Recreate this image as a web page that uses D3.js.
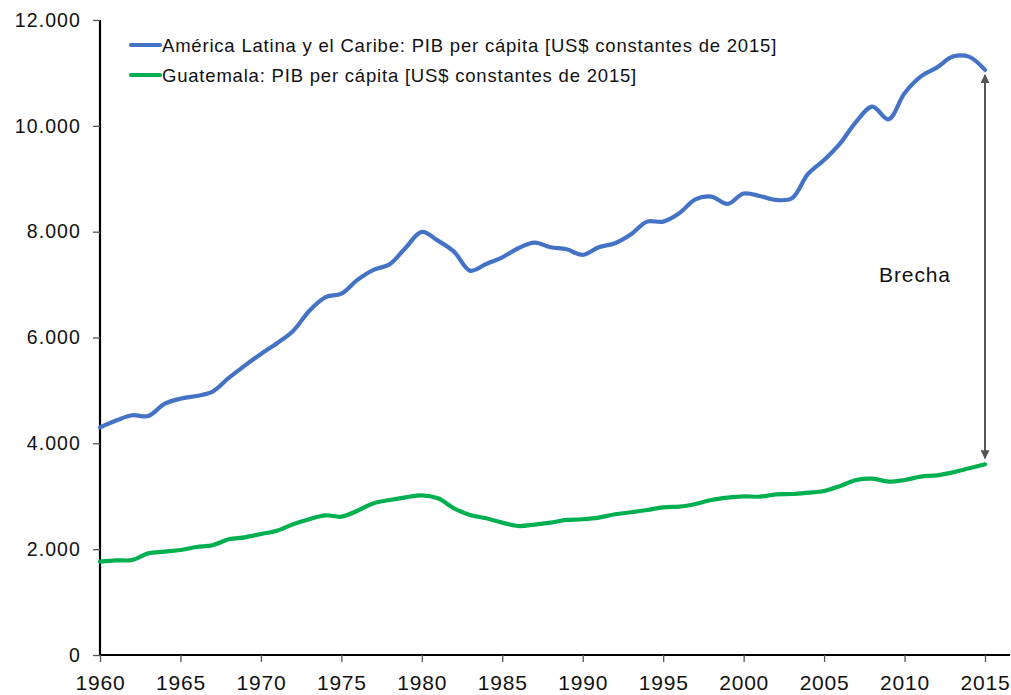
<!DOCTYPE html>
<html>
<head>
<meta charset="utf-8">
<script src="https://cdn.jsdelivr.net/npm/d3@7"></script>
<style>
  body { margin: 0; background: #fff; }
  svg { display: block; font-family: "Liberation Sans", Arial, sans-serif; }
</style>
</head>
<body>
<div id="chart"></div>
<script>
// --- Data ---
const years = d3.range(1960, 2016);

const lacValues = [
  4300, 4430, 4530, 4517, 4744, 4844, 4895, 4977, 5235, 5468,
  5689, 5891, 6124, 6502, 6760, 6829, 7088, 7277, 7384, 7698,
  7995, 7830, 7622, 7263, 7390, 7516, 7686, 7792, 7705, 7667,
  7560, 7705, 7780, 7950, 8190, 8190, 8348, 8612, 8662, 8524,
  8720, 8675, 8600, 8631, 9090, 9355, 9670, 10080, 10363, 10124,
  10616, 10930, 11100, 11308, 11308, 11056
];

const gtmValues = [
  1764, 1789, 1795, 1921, 1953, 1984, 2041, 2073, 2186, 2224,
  2287, 2350, 2470, 2565, 2640, 2614, 2727, 2867, 2929, 2980,
  3018, 2961, 2772, 2646, 2583, 2501, 2438, 2463, 2501, 2552,
  2565, 2596, 2659, 2697, 2740, 2791, 2804, 2854, 2929, 2973,
  2999, 2992, 3037, 3043, 3068, 3100, 3194, 3307, 3332, 3276,
  3307, 3370, 3396, 3452, 3528, 3604
];

const seriesNames = [
  "América Latina y el Caribe: PIB per cápita [US$ constantes de 2015]",
  "Guatemala: PIB per cápita [US$ constantes de 2015]"
];
const seriesColors = ["#4472C4", "#00B050"];

const yTicks = [0, 2000, 4000, 6000, 8000, 10000, 12000];
const xTicks = [1960, 1965, 1970, 1975, 1980, 1985, 1990, 1995, 2000, 2005, 2010, 2015];
const gapLabel = "Brecha";

// --- Layout ---
const W = 1011, H = 695;
const margin = { top: 20, right: 1, bottom: 40, left: 100 };

const svg = d3.select("#chart").append("svg")
    .attr("width", W)
    .attr("height", H);

// x spans 1960..~2016.6 so the axis line runs to the right edge
const x = d3.scaleLinear()
    .domain([1960, 1960 + (W - margin.right - margin.left) / ((985 - 100) / 55)])
    .range([margin.left, W - margin.right]);

const y = d3.scaleLinear()
    .domain([0, 12000])
    .range([H - margin.bottom, margin.top]);

const fmt = d => d3.format(",")(d).replace(/,/g, ".");

// Y axis
const yAxis = svg.append("g")
    .attr("transform", `translate(${margin.left},0)`)
    .call(d3.axisLeft(y).tickValues(yTicks).tickFormat(fmt).tickSize(7).tickPadding(12));
yAxis.select(".domain").attr("stroke", "#000").attr("stroke-width", 2.2).attr("d", `M0,${y(12000)}V${y(0)}`);
yAxis.selectAll(".tick line").attr("stroke", "#555").attr("stroke-width", 1.3);
yAxis.selectAll(".tick text")
    .attr("font-size", 19.5)
    .attr("letter-spacing", 1.1)
    .attr("fill", "#111");

// X axis
const xAxis = svg.append("g")
    .attr("transform", `translate(0,${y(0)})`)
    .call(d3.axisBottom(x).tickValues(xTicks).tickFormat(d3.format("d")).tickSize(7).tickPadding(13));
xAxis.select(".domain").attr("stroke", "#000").attr("stroke-width", 2.2).attr("d", `M${margin.left},0H${W - margin.right}`);
xAxis.selectAll(".tick line").attr("stroke", "#555").attr("stroke-width", 1.3);
xAxis.selectAll(".tick text")
    .attr("font-size", 21)
    .attr("letter-spacing", 0.8)
    .attr("fill", "#111");

// Lines
const line = d3.line()
    .x((d, i) => x(years[i]))
    .y(d => y(d))
    .curve(d3.curveCatmullRom.alpha(0.5));

[lacValues, gtmValues].forEach((vals, k) => {
    svg.append("path")
        .datum(vals)
        .attr("fill", "none")
        .attr("stroke", seriesColors[k])
        .attr("stroke-width", 4.2)
        .attr("stroke-linecap", "round")
        .attr("d", line);
});

// Gap arrow (Brecha)
const defs = svg.append("defs");
defs.append("marker")
    .attr("id", "arrowhead")
    .attr("viewBox", "0 0 10 10")
    .attr("refX", 9).attr("refY", 5)
    .attr("markerWidth", 4.5).attr("markerHeight", 4.5)
    .attr("orient", "auto-start-reverse")
    .append("path")
    .attr("d", "M0,0L10,5L0,10Z")
    .attr("fill", "#555");

const lastIdx = years.length - 1;
svg.append("line")
    .attr("x1", x(years[lastIdx])).attr("x2", x(years[lastIdx]))
    .attr("y1", y(lacValues[lastIdx]) + 5)
    .attr("y2", y(gtmValues[lastIdx]) - 6)
    .attr("stroke", "#555")
    .attr("stroke-width", 2)
    .attr("marker-start", "url(#arrowhead)")
    .attr("marker-end", "url(#arrowhead)");

svg.append("text")
    .attr("x", 915)
    .attr("y", 282)
    .attr("text-anchor", "middle")
    .attr("font-size", 21)
    .attr("letter-spacing", 0.9)
    .attr("fill", "#111")
    .text(gapLabel);

// Legend
const legend = svg.append("g");
seriesNames.forEach((name, k) => {
    const ly = 45 + k * 30;
    legend.append("line")
        .attr("x1", 131).attr("x2", 160)
        .attr("y1", ly).attr("y2", ly)
        .attr("stroke", seriesColors[k])
        .attr("stroke-width", 4.2)
        .attr("stroke-linecap", "round");
    legend.append("text")
        .attr("x", 162)
        .attr("y", ly + 7)
        .attr("font-size", 18.5)
        .attr("letter-spacing", 0.8)
        .attr("fill", "#111")
        .text(name);
});
</script>
</body>
</html>
